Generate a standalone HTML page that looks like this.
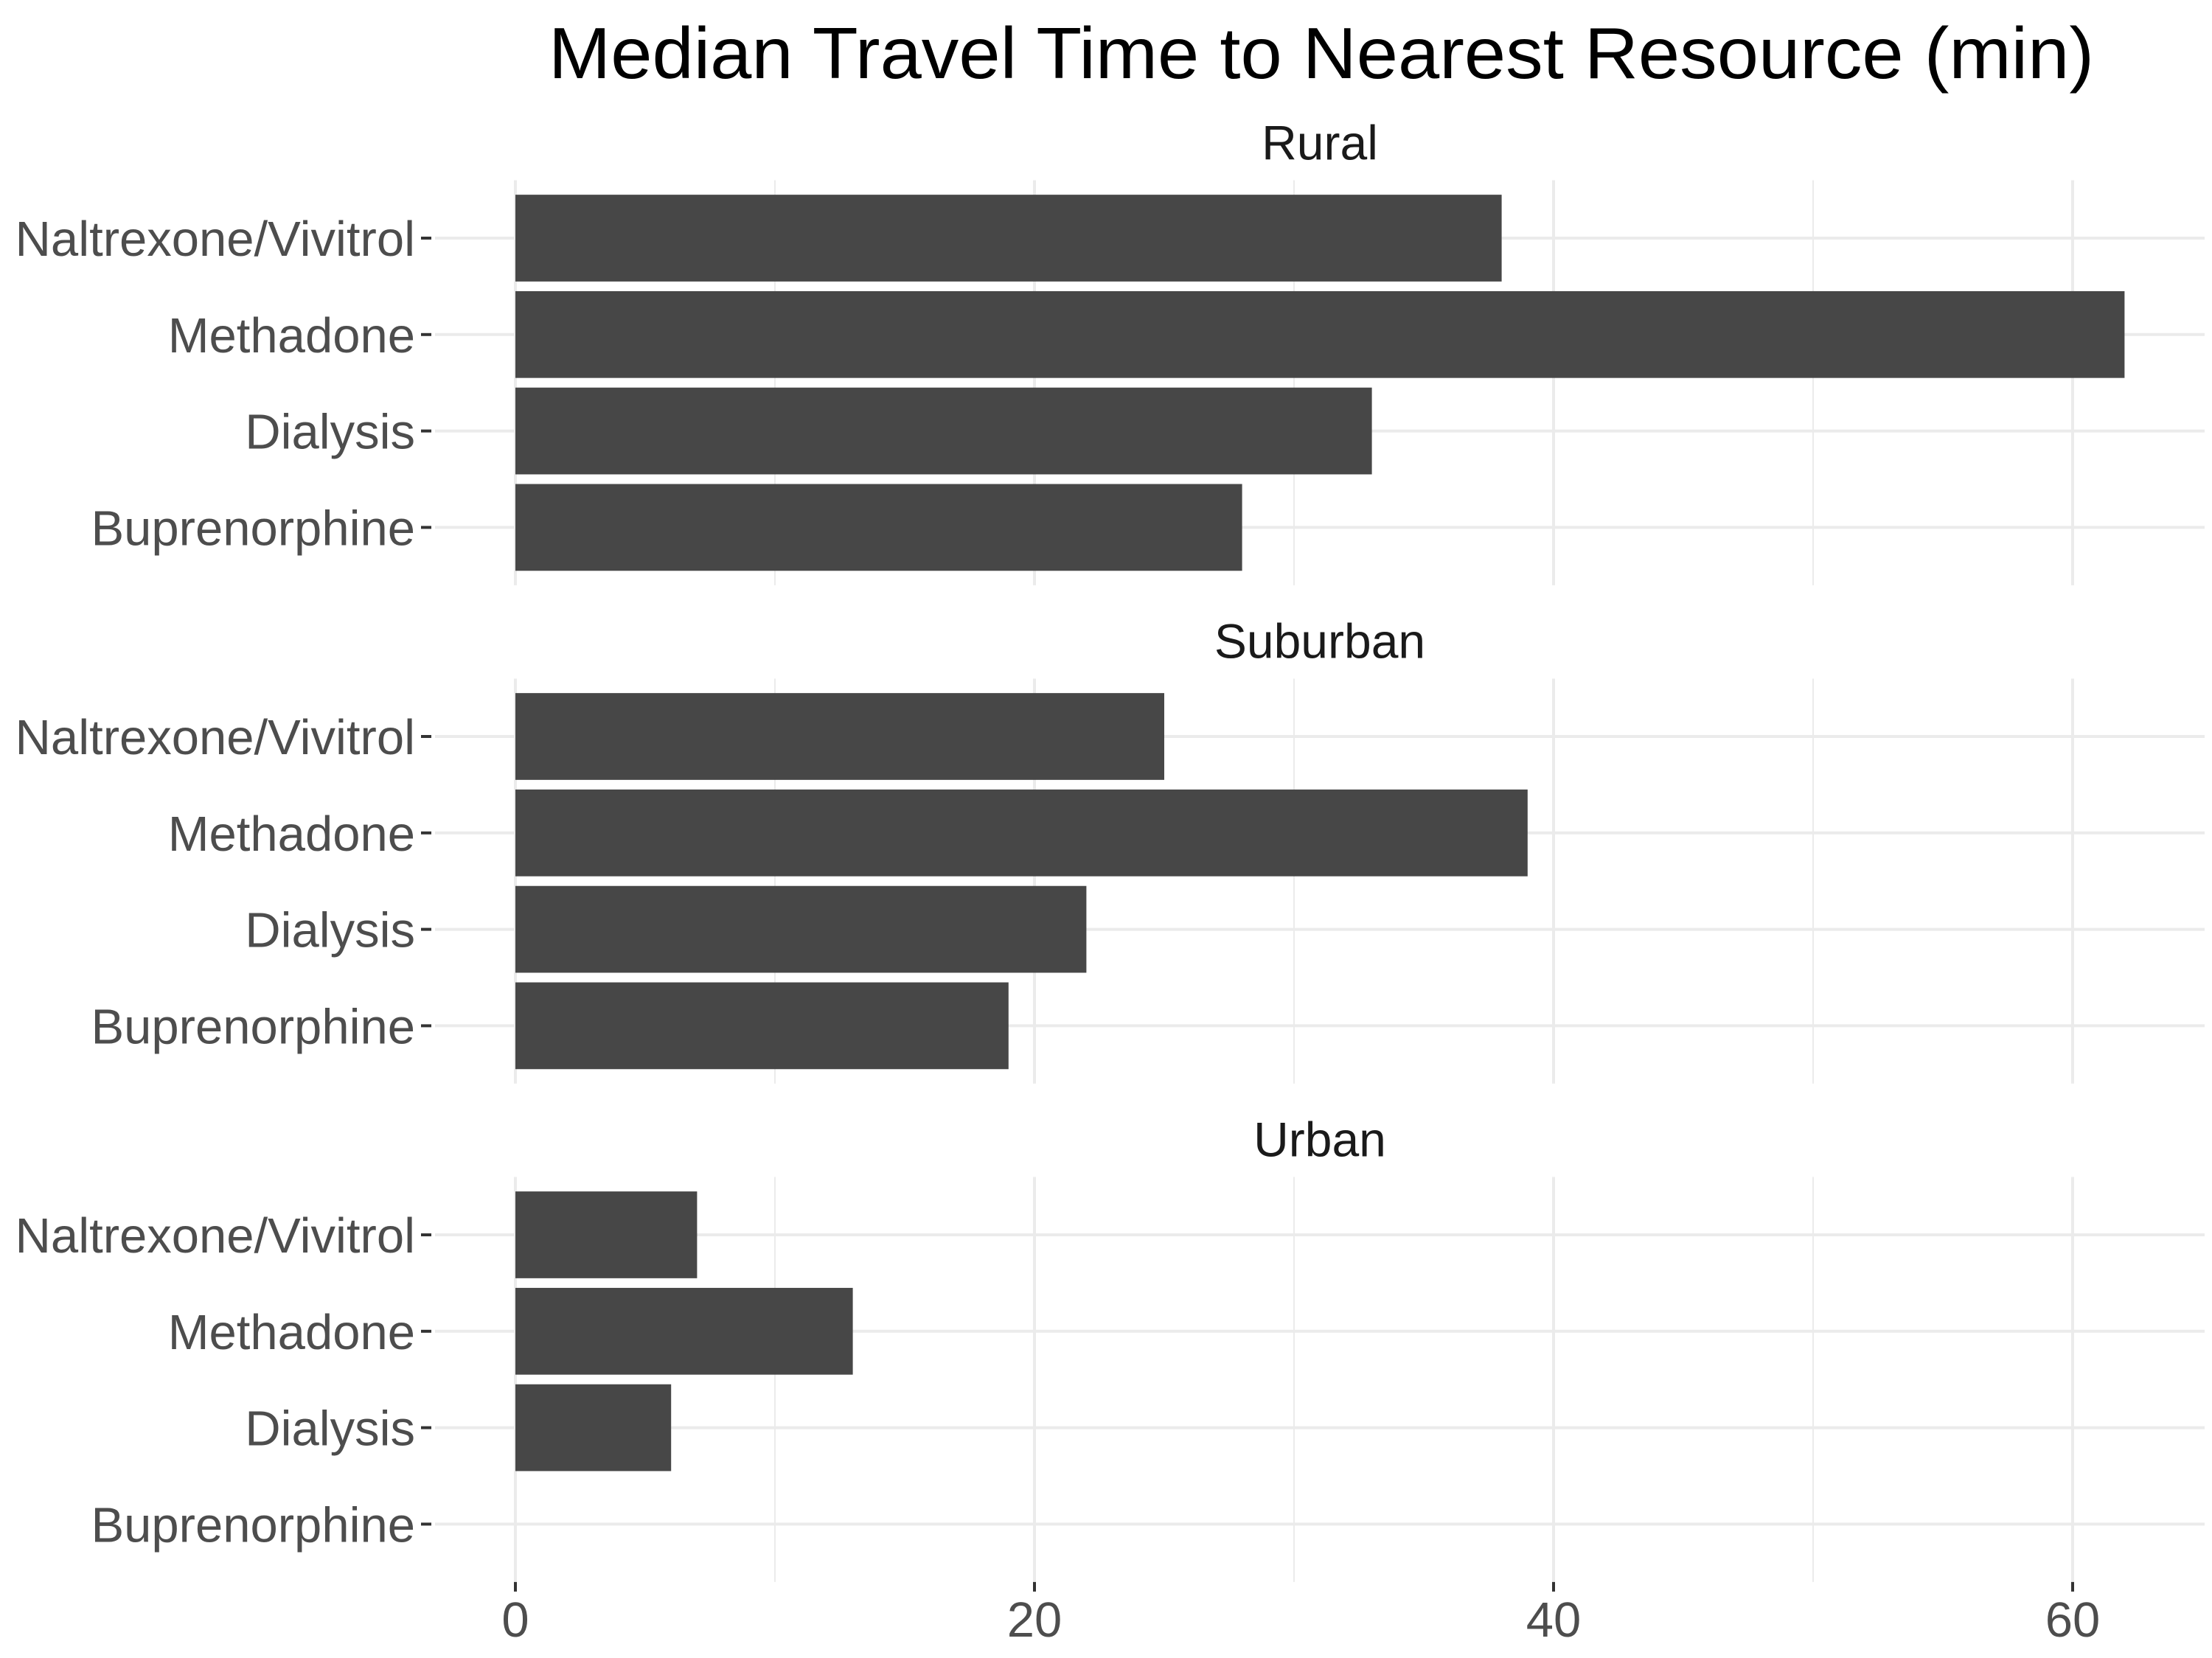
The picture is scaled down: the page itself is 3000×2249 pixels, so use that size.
<!DOCTYPE html>
<html><head><meta charset="utf-8"><style>
html,body{margin:0;padding:0;background:#fff;}
svg{display:block;font-family:"Liberation Sans",Arial,sans-serif;}
</style></head><body>
<svg id="chart" width="3000" height="2249" viewBox="0 0 3000 2249" xmlns="http://www.w3.org/2000/svg">
<rect width="3000" height="2249" fill="#fff"/>
<text x="1792" y="106" text-anchor="middle" font-size="98" fill="#000" textLength="2096" lengthAdjust="spacingAndGlyphs">Median Travel Time to Nearest Resource (min)</text>
<g id="plot"></g>
</svg>
<script>
const panels = ["Rural", "Suburban", "Urban"];
const categories = ["Naltrexone/Vivitrol", "Methadone", "Dialysis", "Buprenorphine"];
const ruralValues = [38, 62, 33, 28];
const suburbanValues = [25, 39, 22, 19];
const urbanValues = [7, 13, 6, 0];
const xTicks = [0, 20, 40, 60];
const xMinor = [10, 30, 50];

const seriesValues = [ruralValues, suburbanValues, urbanValues];
const NS = "http://www.w3.org/2000/svg";
const g = document.getElementById("plot");
const panelLeft = 590, panelRight = 2990;
const x0 = 699, unit = 35.2;
function xScale(v){ return x0 + v * unit; }
const catStep = 130.8, pad = 78.5, panelStep = 676;
const firstCat = 323;
const panelH = 3 * catStep + 2 * pad;
function yScale(p, i){ return firstCat + p * panelStep + i * catStep; }
function mk(tag, attrs){ const e = document.createElementNS(NS, tag); for (const k in attrs) e.setAttribute(k, attrs[k]); g.appendChild(e); return e; }

panels.forEach((pn, p) => {
  const top = firstCat + p * panelStep - pad;
  const strip = mk("text", {x: 1790, y: top - 28, "text-anchor": "middle", "font-size": "66", fill: "#1a1a1a"});
  
  
  strip.textContent = pn;
  xMinor.forEach(v => {
    const l = mk("line", {x1: xScale(v), x2: xScale(v), y1: top, y2: top + panelH, stroke: "#ebebeb", "stroke-width": "2"});
    
    
  });
  xTicks.forEach(v => {
    const l = mk("line", {x1: xScale(v), x2: xScale(v), y1: top, y2: top + panelH, stroke: "#ebebeb", "stroke-width": "4"});
    
    
  });
  categories.forEach((c, i) => {
    const y = yScale(p, i);
    const l = mk("line", {x1: panelLeft, x2: panelRight, y1: y, y2: y, stroke: "#ebebeb", "stroke-width": "4"});
    
    
    const t = mk("line", {x1: 571, x2: 585, y1: y, y2: y, stroke: "#333", "stroke-width": "4"});
    
    
    const lab = mk("text", {x: 563, y: y + 24, "text-anchor": "end", "font-size": "67", fill: "#4d4d4d"});
    
    
    lab.textContent = c;
  });
  categories.forEach((c, i) => {
    const v = seriesValues[p][i];
    const y = yScale(p, i);
    const w = xScale(v) - xScale(0);
    if (w > 0) {
      const b = mk("rect", {x: xScale(0), y: y - catStep * 0.45, width: w, height: catStep * 0.9, fill: "#474747"});
      
      
    }
  });
});
const axisY = firstCat + 2 * panelStep - pad + panelH;
xTicks.forEach(v => {
  const t = mk("line", {x1: xScale(v), x2: xScale(v), y1: axisY, y2: axisY + 13, stroke: "#333", "stroke-width": "4"});
  
  
  const lab = mk("text", {x: xScale(v), y: axisY + 74, "text-anchor": "middle", "font-size": "67", fill: "#4d4d4d"});
  
  
  lab.textContent = v;
});
</script>
</body></html>
